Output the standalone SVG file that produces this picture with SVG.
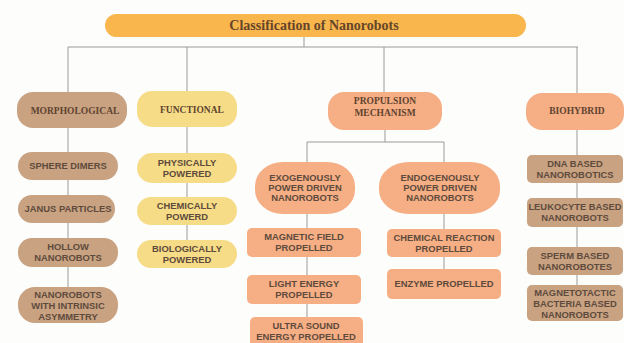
<svg xmlns="http://www.w3.org/2000/svg" width="624" height="343" viewBox="0 0 624 343">
<style>
.bg{fill:#fdfdfb}
.tan{fill:#c9a281}
.yel{fill:#f6dc86}
.sal{fill:#f6ae84}
.ttl{fill:#f9b64d}
.c{fill:none;stroke:#9a9a9a;stroke-width:1}
.h{font-family:"Liberation Serif",serif;font-weight:bold;font-size:9.5px;fill:#5e4330;text-anchor:middle}
.s{font-family:"Liberation Sans",Arial,sans-serif;font-weight:bold;font-size:9.4px;fill:#5e4b3d;text-anchor:middle}
.t{font-family:"Liberation Serif",serif;font-weight:bold;font-size:14px;fill:#654529;text-anchor:middle}
</style>
<rect class="bg" x="0" y="0" width="624" height="343"/>
<g id="connectors">
<path class="c" d="M304,37V47M68,47H578M68,47V92M187,47V91M384,47V92M577,47V93"/>
<path class="c" d="M68,127V287M187,127V240"/>
<path class="c" d="M385,130V142M307,142H444M307,142V162M444,142V162"/>
<path class="c" d="M307,214V317M444,214V269M577,130V285"/>
</g>
<g id="title"><rect class="ttl" x="105" y="14" width="421" height="23" rx="11.5"/><text class="t" x="314" y="30">Classification of Nanorobots</text></g>
<g id="morphological"><rect class="tan" x="17" y="92" width="110" height="36" rx="16"/><text class="h" x="75" y="113.5">MORPHOLOGICAL</text></g>
<g id="functional"><rect class="yel" x="137" y="91" width="100" height="36" rx="15"/><text class="h" x="192" y="113">FUNCTIONAL</text></g>
<g id="propulsion"><rect class="sal" x="328" y="92" width="114" height="38" rx="16"/><text class="h" x="385" y="104">PROPULSION</text><text class="h" x="385" y="116">MECHANISM</text></g>
<g id="biohybrid"><rect class="sal" x="526" y="93" width="98" height="37" rx="16"/><text class="h" x="577" y="114">BIOHYBRID</text></g>
<g id="sphere-dimers"><rect class="tan" x="18" y="152" width="100" height="28" rx="14"/><text class="s" x="68" y="169">SPHERE DIMERS</text></g>
<g id="janus"><rect class="tan" x="18" y="195" width="97" height="28" rx="14"/><text class="s" x="68" y="212">JANUS PARTICLES</text></g>
<g id="hollow"><rect class="tan" x="18" y="238" width="100" height="29" rx="14"/><text class="s" x="68" y="250">HOLLOW</text><text class="s" x="68" y="261">NANOROBOTS</text></g>
<g id="intrinsic"><rect class="tan" x="18" y="287" width="100" height="36" rx="17"/><text class="s" x="68" y="298">NANOROBOTS</text><text class="s" x="68" y="309">WITH INTRINSIC</text><text class="s" x="68" y="320">ASYMMETRY</text></g>
<g id="physically"><rect class="yel" x="137" y="153" width="100" height="30" rx="15"/><text class="s" x="187" y="166">PHYSICALLY</text><text class="s" x="187" y="177">POWERED</text></g>
<g id="chemically"><rect class="yel" x="137" y="197" width="100" height="28" rx="14"/><text class="s" x="187" y="209">CHEMICALLY</text><text class="s" x="187" y="220">POWERD</text></g>
<g id="biologically"><rect class="yel" x="137" y="240" width="100" height="28" rx="14"/><text class="s" x="187" y="252">BIOLOGICALLY</text><text class="s" x="187" y="263">POWERED</text></g>
<g id="exogenous"><rect class="sal" x="255" y="162" width="100" height="52" rx="28" ry="24"/><text class="s" x="305" y="181">EXOGENOUSLY</text><text class="s" x="305" y="191">POWER DRIVEN</text><text class="s" x="305" y="201">NANOROBOTS</text></g>
<g id="endogenous"><rect class="sal" x="379" y="162" width="121" height="52" rx="30" ry="24"/><text class="s" x="440" y="181">ENDOGENOUSLY</text><text class="s" x="440" y="191">POWER DRIVEN</text><text class="s" x="440" y="201">NANOROBOTS</text></g>
<g id="magnetic"><rect class="sal" x="247" y="228" width="114" height="29" rx="5"/><text class="s" x="304" y="240">MAGNETIC FIELD</text><text class="s" x="304" y="251">PROPELLED</text></g>
<g id="light"><rect class="sal" x="247" y="275" width="114" height="29" rx="5"/><text class="s" x="304" y="287">LIGHT ENERGY</text><text class="s" x="304" y="298">PROPELLED</text></g>
<g id="ultrasound"><rect class="sal" x="250" y="317" width="113" height="30" rx="5"/><text class="s" x="306" y="329">ULTRA SOUND</text><text class="s" x="306" y="340">ENERGY PROPELLED</text></g>
<g id="chemical-reaction"><rect class="sal" x="387" y="229" width="114" height="28" rx="5"/><text class="s" x="444" y="241">CHEMICAL REACTION</text><text class="s" x="444" y="252">PROPELLED</text></g>
<g id="enzyme"><rect class="sal" x="387" y="269" width="114" height="30" rx="5"/><text class="s" x="444" y="287">ENZYME PROPELLED</text></g>
<g id="dna"><rect class="tan" x="527" y="155" width="96" height="28" rx="5"/><text class="s" x="575" y="167">DNA BASED</text><text class="s" x="575" y="178">NANOROBOTICS</text></g>
<g id="leukocyte"><rect class="tan" x="527" y="198" width="96" height="29" rx="5"/><text class="s" x="575" y="210">LEUKOCYTE BASED</text><text class="s" x="575" y="221">NANOROBOTS</text></g>
<g id="sperm"><rect class="tan" x="527" y="247" width="96" height="28" rx="5"/><text class="s" x="575" y="259">SPERM BASED</text><text class="s" x="575" y="270">NANOROBOTES</text></g>
<g id="magnetotactic"><rect class="tan" x="527" y="285" width="96" height="36" rx="5"/><text class="s" x="575" y="296">MAGNETOTACTIC</text><text class="s" x="575" y="307">BACTERIA BASED</text><text class="s" x="575" y="318">NANOROBOTS</text></g>
</svg>
